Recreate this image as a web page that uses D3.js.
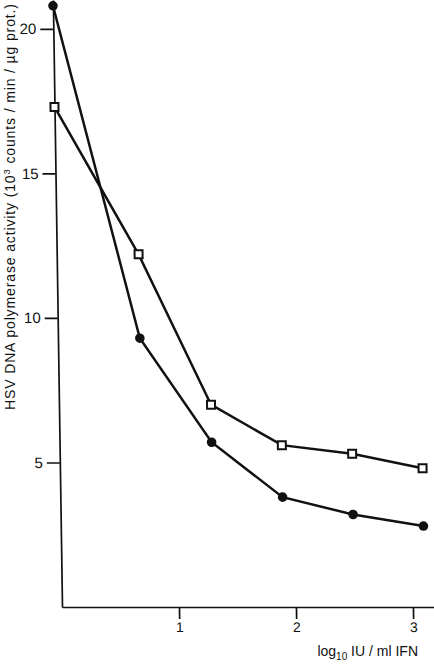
<!DOCTYPE html>
<html>
<head>
<meta charset="utf-8">
<script src="https://cdn.jsdelivr.net/npm/d3@7"></script>
<style>
  body { margin: 0; background: #fff; }
  svg { display: block; font-family: "Liberation Sans", Arial, Helvetica, sans-serif; }
  .axis path, .axis line { stroke: #111; stroke-width: 1.7px; }
  .axis text { fill: #111; }
</style>
</head>
<body>
<div id="chart"></div>
<script>
// data (log10 IU/ml IFN)
var doseValues = [0, 0.7, 1.3, 1.9, 2.5, 3.1];
var filledValues = [20.8, 9.3, 5.7, 3.8, 3.2, 2.8];
var openValues = [17.3, 12.2, 7.0, 5.6, 5.3, 4.8];
var xTickValues = [1, 2, 3];
var yTickValues = [5, 10, 15, 20];

var svgWidth = 434;
var svgHeight = 664;

var chartMargin = { top: 0, left: 62 };
var chartWidth = 372;
var chartHeight = 607;

var svg = d3.select("#chart")
  .append("svg")
  .attr("width", svgWidth)
  .attr("height", svgHeight);

// the printed axes lean a little, so skew around the x axis
var chartGroup = svg.append("g")
  .attr("transform", `translate(${chartMargin.left}, ${chartHeight}) skewX(0.86) translate(0, ${-chartHeight})`);

var xScale = d3.scaleLinear()
  .domain([0, 3.18])
  .range([0, chartWidth]);

var yScale = d3.scaleLinear()
  .domain([0, 21])
  .range([chartHeight, 0]);

var bottomAxis = d3.axisBottom(xScale)
  .tickValues(xTickValues)
  .tickFormat(d3.format("d"))
  .tickSize(12)
  .tickSizeOuter(0)
  .tickPadding(3);

var leftAxis = d3.axisLeft(yScale)
  .tickValues(yTickValues)
  .tickFormat(d3.format("d"))
  .tickSize(13)
  .tickSizeOuter(0)
  .tickPadding(4);

chartGroup.append("g")
  .attr("class", "axis")
  .attr("transform", `translate(0, ${chartHeight})`)
  .call(bottomAxis)
  .selectAll("text")
  .attr("font-size", "14px");

chartGroup.append("g")
  .attr("class", "axis")
  .call(leftAxis)
  .selectAll("text")
  .attr("font-size", "15px");

var line = d3.line()
  .x((d, i) => xScale(doseValues[i]))
  .y(d => yScale(d));

chartGroup.append("path")
  .datum(openValues)
  .attr("fill", "none")
  .attr("stroke", "#111")
  .attr("stroke-width", 2.5)
  .attr("d", line);

chartGroup.append("path")
  .datum(filledValues)
  .attr("fill", "none")
  .attr("stroke", "#111")
  .attr("stroke-width", 2.5)
  .attr("d", line);

chartGroup.selectAll(".dot")
  .data(filledValues)
  .enter()
  .append("circle")
  .attr("cx", (d, i) => xScale(doseValues[i]))
  .attr("cy", d => yScale(d))
  .attr("r", 4.8)
  .attr("fill", "#111");

chartGroup.selectAll(".box")
  .data(openValues)
  .enter()
  .append("rect")
  .attr("x", (d, i) => xScale(doseValues[i]) - 4)
  .attr("y", d => yScale(d) - 4)
  .attr("width", 8)
  .attr("height", 8)
  .attr("fill", "#fff")
  .attr("stroke", "#111")
  .attr("stroke-width", 2);

// x axis label
var xLabel = svg.append("text")
  .attr("x", 418)
  .attr("y", 656)
  .attr("text-anchor", "end")
  .attr("font-size", "14px")
  .attr("fill", "#111");
xLabel.append("tspan").text("log");
xLabel.append("tspan").attr("font-size", "10px").attr("dy", "4").text("10");
xLabel.append("tspan").attr("dy", "-4").text(" IU / ml IFN");

// y axis label
var yLabel = svg.append("text")
  .attr("transform", "translate(15, 410) rotate(-90)")
  .attr("font-size", "14px")
  .attr("fill", "#111")
  .attr("textLength", 406)
  .attr("lengthAdjust", "spacing");
yLabel.append("tspan").text("HSV DNA polymerase activity (10");
yLabel.append("tspan").attr("font-size", "9.5px").attr("dy", "-5").text("3");
yLabel.append("tspan").attr("dy", "5").text(" counts / min / µg prot.)");
</script>
</body>
</html>
